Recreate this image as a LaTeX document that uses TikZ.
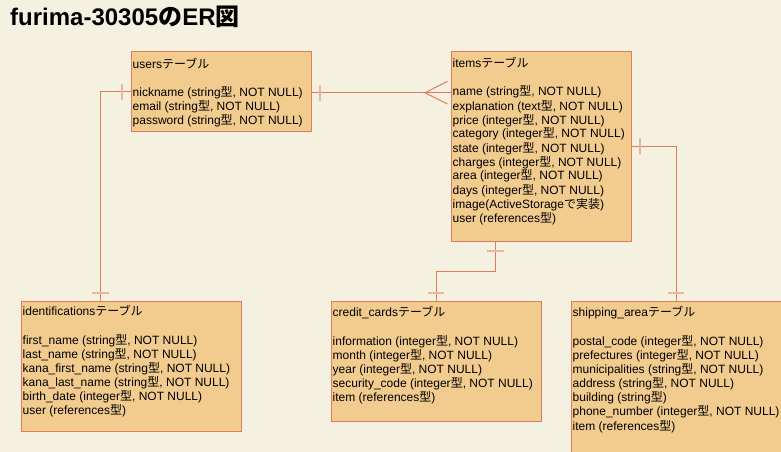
\documentclass[tikz,border=0pt]{standalone}
\usepackage{fontspec}
\setmainfont{Liberation Sans}
\newfontfamily\jp{Noto Sans CJK JP}
\usepackage{xcolor}

\definecolor{paper}{HTML}{F5F1E1}
\definecolor{tablefill}{HTML}{F2CB8E}
\definecolor{tableline}{HTML}{E27A60}
\definecolor{barline}{HTML}{EDB59D}

\begin{document}
\begin{tikzpicture}[x=1pt,y=-1pt,
  tablebox/.style={draw=tableline, fill=tablefill, line width=1pt, anchor=north west, inner sep=0pt},
  fields/.style={anchor=base west, inner sep=0pt, font=\fontsize{12}{14}\selectfont},
  relline/.style={draw=tableline, line width=1pt},
  onebar/.style={draw=barline, line width=2pt}]

  % Page and background
  \useasboundingbox (0,0) rectangle (781,452);
  \fill[paper] (0,0) rectangle (781,452);

  % Title
  \node[anchor=base west, inner sep=0pt, font=\bfseries\fontsize{24}{28}\selectfont] (title) at (10,26) {furima-30305{\jp の}ER{\jp 図}};

  % Table boxes
  \node[tablebox, minimum width=180, minimum height=80] (users) at (130.5,51) {};
  \node[tablebox, minimum width=180, minimum height=189.5] (items) at (450.5,51.5) {};
  \node[tablebox, minimum width=220, minimum height=130] (idents) at (20.5,301) {};
  \node[tablebox, minimum width=210, minimum height=120] (cards) at (330.5,301) {};
  \node[tablebox, minimum width=210, minimum height=150.5] (shipping) at (570.5,301) {};

  % Table texts
  \node[fields] (users-f) at ([shift={(2,17)}]users.north west) {\parbox[t]{230pt}{\raggedright
    users{\jp テーブル}\\[14.3pt]
    nickname (string{\jp 型}, NOT NULL)\\
    email (string{\jp 型}, NOT NULL)\\
    password (string{\jp 型}, NOT NULL)}};

  \node[fields] (items-f) at ([shift={(2,16.2)}]items.north west) {\parbox[t]{230pt}{\raggedright
    items{\jp テーブル}\\[14.3pt]
    name (string{\jp 型}, NOT NULL)\\
    explanation (text{\jp 型}, NOT NULL)\\
    price (integer{\jp 型}, NOT NULL)\\
    category (integer{\jp 型}, NOT NULL)\\
    state (integer{\jp 型}, NOT NULL)\\
    charges (integer{\jp 型}, NOT NULL)\\
    area (integer{\jp 型}, NOT NULL)\\
    days (integer{\jp 型}, NOT NULL)\\
    image(ActiveStorage{\jp で実装})\\
    user (references{\jp 型})}};

  \node[fields] (idents-f) at ([shift={(2,14.7)}]idents.north west) {\parbox[t]{230pt}{\raggedright
    identifications{\jp テーブル}\\[14.3pt]
    first\_name (string{\jp 型}, NOT NULL)\\
    last\_name (string{\jp 型}, NOT NULL)\\
    kana\_first\_name (string{\jp 型}, NOT NULL)\\
    kana\_last\_name (string{\jp 型}, NOT NULL)\\
    birth\_date (integer{\jp 型}, NOT NULL)\\
    user (references{\jp 型})}};

  \node[fields] (cards-f) at ([shift={(2,15.7)}]cards.north west) {\parbox[t]{230pt}{\raggedright
    credit\_cards{\jp テーブル}\\[14.3pt]
    information (integer{\jp 型}, NOT NULL)\\
    month (integer{\jp 型}, NOT NULL)\\
    year (integer{\jp 型}, NOT NULL)\\
    security\_code (integer{\jp 型}, NOT NULL)\\
    item (references{\jp 型})}};

  \node[fields] (shipping-f) at ([shift={(2,15.7)}]shipping.north west) {\parbox[t]{230pt}{\raggedright
    shipping\_area{\jp テーブル}\\[14.3pt]
    postal\_code (integer{\jp 型}, NOT NULL)\\
    prefectures (integer{\jp 型}, NOT NULL)\\
    municipalities (string{\jp 型}, NOT NULL)\\
    address (string{\jp 型}, NOT NULL)\\
    building (string{\jp 型})\\
    phone\_number (integer{\jp 型}, NOT NULL)\\[1pt]
    item (references{\jp 型})}};

  % Relation lines
  \coordinate (ucorner) at (100.7,0);
  \coordinate (uirow) at (0,92.7);
  \coordinate (icol) at (495.7,0);
  \coordinate (isrow) at (0,146);

  \draw[relline] (users.west) -| (idents.north -| ucorner);
  \draw[relline] (users.east |- uirow) -- (items.west |- uirow);
  \draw[relline] (icol |- items.south) |- ([yshift=30pt]cards.north) -- (cards.north);
  \draw[relline] (items.east |- isrow) -| (shipping.north);

  % Crow's foot (many items)
  \draw[relline] ([xshift=-3pt,yshift=11.3pt]items.west |- uirow) -- ([xshift=-25.5pt]items.west |- uirow)
    -- ([xshift=-3pt,yshift=-11.3pt]items.west |- uirow);

  % One bars
  \draw[onebar] ([xshift=-9pt]users.west) ++(0,-8) -- ++(0,16);
  \draw[onebar] ([yshift=8.5pt]idents.north -| ucorner) ++(-8.3,0) -- ++(16.6,0);
  \draw[onebar] ([xshift=8.5pt]users.east |- uirow) ++(0,-8) -- ++(0,16);
  \draw[onebar] ([yshift=-9pt]icol |- items.south) ++(-8.3,0) -- ++(16.6,0);
  \draw[onebar] ([yshift=8.5pt]cards.north) ++(-8.3,0) -- ++(16.6,0);
  \draw[onebar] ([xshift=8.5pt]items.east |- isrow) ++(0,-8) -- ++(0,16);
  \draw[onebar] ([yshift=8.5pt]shipping.north) ++(-8.3,0) -- ++(16.6,0);

\end{tikzpicture}
\end{document}
